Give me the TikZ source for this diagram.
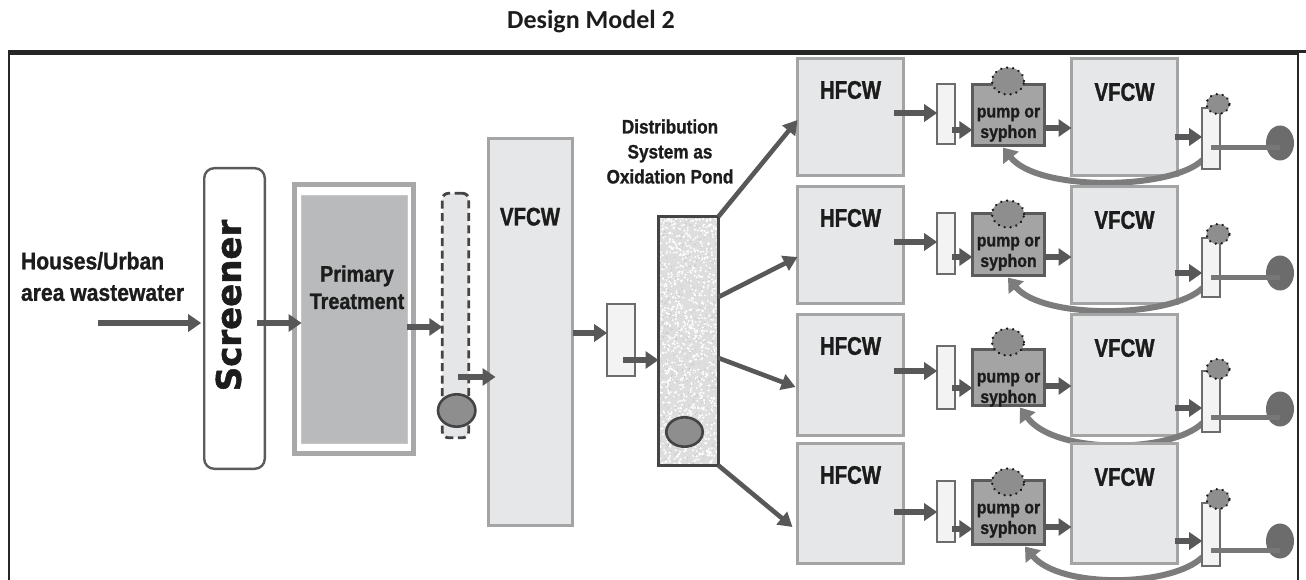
\documentclass[tikz,border=0pt]{standalone}
\usepackage{fontspec}
\usetikzlibrary{arrows.meta,shapes.geometric,calc}
\setmainfont{Liberation Sans}
\newfontfamily\titlefont{Carlito}
\newfontfamily\narrowfont{Liberation Sans}[FakeStretch=0.80,FakeBold=1.2]
\newfontfamily\semifont{Liberation Sans}[FakeStretch=0.88,FakeBold=1.0]
\newfontfamily\blockfont{DejaVu Sans}[FakeBold=1.5]

\newcommand\cellfont{\narrowfont\bfseries\fontsize{25.5}{28}\selectfont}
\newcommand\pumpfont{\semifont\bfseries\fontsize{18}{20.5}\selectfont}

\definecolor{cflow}{HTML}{585858}
\definecolor{cret}{HTML}{7C7C7C}
\definecolor{ccell}{HTML}{E6E7E8}
\definecolor{ccellline}{HTML}{A4A4A4}
\definecolor{csump}{HTML}{F3F3F3}
\definecolor{csumpline}{HTML}{6C6C6C}
\definecolor{cpump}{HTML}{A4A4A4}
\definecolor{cpumpline}{HTML}{5B5B5B}
\definecolor{cdark}{HTML}{444444}
\definecolor{cink}{HTML}{1C1C1C}
\definecolor{cball}{HTML}{8E8E8E}
\definecolor{cout}{HTML}{6C6C6C}
\definecolor{clead}{HTML}{777777}
\definecolor{cptfill}{HTML}{B9BABC}
\definecolor{cptframe}{HTML}{A8A8A8}
\definecolor{cscreen}{HTML}{5B5B5B}
\definecolor{cpond}{HTML}{DEDEDE}
\definecolor{ctank}{HTML}{E5E6E7}

\tikzset{
  flatbox/.style={rectangle, inner sep=0pt, outer sep=0pt},
  cellbox/.style={flatbox, draw=ccellline, fill=ccell, line width=3pt, minimum width=106pt},
  sumpbox/.style={flatbox, draw=csumpline, fill=csump, line width=2.4pt, minimum width=17.6pt},
  pumpbox/.style={flatbox, draw=cpumpline, fill=cpump, line width=2.8pt, minimum width=72.2pt},
  dotball/.style={ellipse, inner sep=0pt, outer sep=0pt, fill=cball, draw=black!90,
    line width=2.6pt, line cap=round, dash pattern=on 0.01pt off 6pt},
  floatball/.style={ellipse, inner sep=0pt, outer sep=0pt, fill=cball, draw=cdark, line width=2.6pt},
  outball/.style={ellipse, inner sep=0pt, outer sep=0pt, fill=cout, minimum width=28pt, minimum height=35pt},
  flowarrow/.style={draw=cflow, line width=5.5pt, -{Triangle[length=13pt,width=17pt]}},
  feedarrow/.style={draw=cflow, line width=4.6pt, -{Triangle[length=14pt,width=16pt]}},
  returnarrow/.style={draw=cret, line width=6pt, -{Triangle[length=13pt,width=19pt]}},
  leadline/.style={draw=clead, line width=5pt},
  txt/.style={inner sep=0pt, outer sep=0pt, text=cink},
}

% row/top/bottom of cells, sump box, pump box, pump float, outlet box, outlet float,
% end float, end pipe, arrow levels, tip of the return line
\def\rowdata{
 1/57/177/83/145/83/147/81/107/170/104/143/148/113/130/128/137/1003,
 2/185/305/212/275/212/277/214/237/298/234/273/277/242/257/257/273/1008,
 3/313/437/345/410/348/407/342/370/433/369/409/417/371/388/386/408/1020,
 4/442/565/480/543/479/546/482/502/567/499/541/550/512/529/527/541/1025}

\begin{document}
\begin{tikzpicture}[x=1pt,y=-1pt]
\useasboundingbox (0,0) rectangle (1306,580);

% heading and frame
\node[txt, anchor=base, font=\titlefont\bfseries\fontsize{26}{30}\selectfont] (title) at (591,29) {Design Model 2};
\draw[line width=2.3pt, black!85] (8,51.5) -- (1306,51.5);
\draw[line width=2pt, black!85] (8.7,582) -- (8.7,54.3) -- (1297.7,54.3) -- (1297.7,582);

% inlet side
\node[txt, anchor=west, align=left, font=\semifont\bfseries\fontsize{24}{31.5}\selectfont] (src) at (21,276.5) {Houses/Urban\\area wastewater};
\coordinate (in) at (98,323);

\node[flatbox, draw=cscreen, fill=white, line width=2.4pt, rounded corners=10pt,
      minimum width=60.6pt, minimum height=300.6pt] (scr) at (234.5,318.5) {};
\node[txt, rotate=90, font=\blockfont\bfseries\fontsize{34}{40}\selectfont] (scrtext) at (228.5,305.5) {Screener};

\node[flatbox, draw=cptframe, fill=white, line width=4.5pt, minimum width=119pt, minimum height=269pt] (ptout) at (354,319.2) {};
\node[flatbox, draw=black!22, fill=cptfill, line width=1.2pt, minimum width=105.8pt, minimum height=248.1pt] (ptin) at (354.5,319.65) {};
\node[txt, align=center, font=\semifont\bfseries\fontsize{22.5}{27.3}\selectfont] (pttext) at (357,287.3) {Primary\\Treatment};

\node[flatbox, draw=cdark, fill=ctank, line width=2.8pt, rounded corners=6pt, dash pattern=on 8pt off 4.5pt,
      minimum width=26.4pt, minimum height=244.4pt] (tank) at (455.5,315.5) {};
\node[floatball, minimum width=37.4pt, minimum height=32.4pt] (tankball) at (456.7,410.5) {};

\node[flatbox, draw=ccellline, fill=ccell, line width=3pt, minimum width=84pt, minimum height=386.4pt] (vfa) at (530.5,332) {};
\node[txt, font=\cellfont] (vfatext) at (530,216.7) {VFCW};

\node[sumpbox, minimum width=27.6pt, minimum height=71.6pt] (sm) at (621,340) {};

% distribution pond with a speckled fill
\node[flatbox, fill=cpond, minimum width=60pt, minimum height=249pt] (pond) at (688.5,341) {};
\begin{scope}
  \clip (pond.south west) rectangle (pond.north east);
  \pgfmathsetseed{7}
  \foreach \k in {1,...,1100} { \fill[white] ({658+61*rnd},{216+250*rnd}) circle (1.1pt); }
  \foreach \k in {1,...,450} { \fill[black!22] ({658+61*rnd},{216+250*rnd}) circle (0.7pt); }
\end{scope}
\draw[cdark, line width=3pt] (pond.south west) rectangle (pond.north east);
\node[floatball, minimum width=36.4pt, minimum height=29.4pt] (pondball) at (684.5,432) {};
\node[txt, align=center, font=\semifont\bfseries\fontsize{19.5}{25}\selectfont] (pondtext) at (670,151.5) {Distribution\\System as\\Oxidation Pond};

% inlet-side flow
\draw[flowarrow] (in) -- ($(in -| scr.west)+(-3,0)$);
\draw[flowarrow] ($(scr.east |- in)+(-8,0)$) -- (in -| ptin.west);
\draw[flowarrow] (ptin.east |- 0,327) -- (tank.west |- 0,327);
\draw[flowarrow] ($(tank.center |- 0,377)+(2.5,0)$) -- ($(vfa.west |- 0,377)+(7,0)$);
\draw[flowarrow] (vfa.east |- 0,333) -- (sm.west |- 0,333);
\draw[flowarrow] ($(sm.center |- 0,360)+(2,0)$) -- (pond.west |- 0,360);

% parallel treatment lines
\foreach \rw/\rHt/\rHb/\rSt/\rSb/\rPt/\rPb/\rCy/\rTt/\rTb/\rTc/\rEy/\rLy/\rAa/\rAb/\rAc/\rAd/\rTx in \rowdata {
  \node[cellbox, minimum height={\rHb-\rHt-3}] (hf\rw) at (850.5,{(\rHt+\rHb)/2}) {};
  \node[cellbox, minimum height={\rHb-\rHt-3}] (vf\rw) at (1124.5,{(\rHt+\rHb)/2}) {};
  \node[sumpbox, minimum height={\rSb-\rSt-2.4}] (sb\rw) at (946,{(\rSt+\rSb)/2}) {};
  \node[pumpbox, minimum height={\rPb-\rPt-2.8}] (pu\rw) at (1008.5,{(\rPt+\rPb)/2}) {};
  \node[dotball, minimum width=32pt, minimum height=27pt] (pf\rw) at (1008,\rCy) {};
  \node[txt, font=\cellfont] (hl\rw) at (850.5,{\rHt+33}) {HFCW};
  \node[txt, font=\cellfont] (vl\rw) at (1124.5,{\rHt+35}) {VFCW};
  \node[txt, align=center, font=\pumpfont] (pl\rw) at (1008.5,{\rPt+41.7}) {pump or\\syphon};
  \draw[returnarrow] ($(vf\rw.east |- 0,\rTb)+(25,-10)$)
      .. controls (1172,{\rTb+20}) and ({\rTx+35},{\rTb+22}) .. ($(pu\rw.south)+({\rTx-1008.5},2)$);
  \node[sumpbox, minimum height={\rTb-\rTt-2.4}] (tb\rw) at (1211,{(\rTt+\rTb)/2}) {};
  \node[dotball, minimum width=23pt, minimum height=20pt] (tf\rw) at (1218,\rTc) {};
  \node[outball] (en\rw) at (1280,\rEy) {};
  \draw[leadline] (tb\rw.center |- 0,\rLy) -- (en\rw.center |- 0,\rLy);
  \draw[flowarrow] ($(hf\rw.east |- 0,\rAa)+(-9.5,0)$) -- (sb\rw.west |- 0,\rAa);
  \draw[flowarrow] ($(sb\rw.center |- 0,\rAb)+(6,0)$) -- (pu\rw.west |- 0,\rAb);
  \draw[flowarrow] (pu\rw.east |- 0,\rAc) -- (vf\rw.west |- 0,\rAc);
  \draw[flowarrow] ($(vf\rw.east |- 0,\rAd)+(-3,0)$) -- (tb\rw.west |- 0,\rAd);
}

% feed lines from the pond to each line
\draw[feedarrow] (pond.north east) -- (hf1.west |- 0,120);
\draw[feedarrow] (pond.east |- 0,297) -- (hf2.west |- 0,257);
\draw[feedarrow] (pond.east |- 0,358) -- ($(hf3.west |- 0,387)+(-2,0)$);
\draw[feedarrow] (pond.south east) -- ($(hf4.west |- 0,527)+(-5,0)$);
\end{tikzpicture}
\end{document}
